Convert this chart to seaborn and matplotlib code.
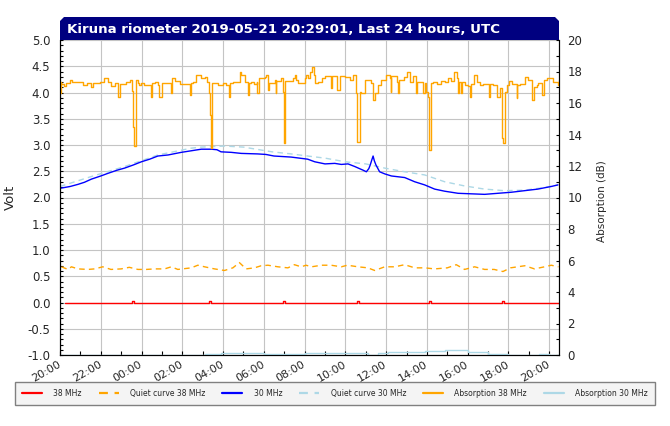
import numpy as np
import pandas as pd
import matplotlib
matplotlib.use("Agg")
import matplotlib.pyplot as plt
from matplotlib.patches import Polygon
import seaborn as sns

sns.set_theme(style="white")
plt.rcParams['font.family'] = ['DejaVu Sans']

# ---------------- data (hours after 2019-05-20 20:00 UTC) ----------------
tick_hours = [0, 2, 4, 6, 8, 10, 12, 14, 16, 18, 20, 22, 24]
tick_labels = ["20:00", "22:00", "00:00", "02:00", "04:00", "06:00", "08:00",
               "10:00", "12:00", "14:00", "16:00", "18:00", "20:00"]

# 38 MHz signal (Volt)
sig38_h = [0.25, 3.55, 3.65, 7.32, 7.42, 10.95, 11.05, 14.55, 14.65, 18.08, 18.18, 21.70, 21.80, 24.48]
sig38_v = [0.0, 0.02, 0.0, 0.02, 0.0, 0.02, 0.0, 0.02, 0.0, 0.02, 0.0, 0.02, 0.0, 0.0]

# Quiet curve 38 MHz (Volt)
q38_h = [0.07, 0.39, 0.56, 0.88, 1.37, 1.70, 2.10, 2.50, 3.00, 3.40, 3.82, 4.23, 4.64, 5.13,
         5.46, 5.78, 6.44, 6.76, 7.09, 7.58, 8.07, 8.48, 8.80, 9.13, 9.54, 9.87, 10.20, 10.69,
         11.18, 11.50, 11.83, 12.07, 12.34, 12.83, 13.30, 13.80, 14.10, 14.62, 15.10, 15.44,
         15.93, 16.42, 16.91, 17.40, 17.90, 18.38, 19.00, 19.44, 19.85, 20.34, 20.83, 21.30,
         21.73, 22.10, 22.80, 23.28, 23.77, 24.10, 24.45]
q38_v = [0.68, 0.63, 0.68, 0.64, 0.63, 0.64, 0.68, 0.63, 0.64, 0.67, 0.63, 0.63, 0.64, 0.64,
         0.68, 0.63, 0.66, 0.71, 0.68, 0.64, 0.61, 0.66, 0.76, 0.64, 0.66, 0.70, 0.71, 0.68,
         0.66, 0.72, 0.68, 0.71, 0.68, 0.71, 0.71, 0.68, 0.71, 0.68, 0.66, 0.61,
         0.68, 0.68, 0.72, 0.66, 0.66, 0.64, 0.66, 0.72, 0.63, 0.68, 0.63, 0.63,
         0.59, 0.66, 0.70, 0.64, 0.68, 0.71, 0.68]

# 30 MHz signal (Volt)
sig30_h = [0.0, 0.5, 0.88, 1.2, 1.54, 2.0, 2.35, 2.8, 3.17, 3.6, 3.99, 4.4, 4.8, 5.3, 5.95,
           6.44, 6.93, 7.42, 7.7, 7.9, 8.4, 8.89, 9.7, 10.1, 10.5, 11.34, 12.15, 12.5, 13.0,
           13.48, 13.8, 14.13, 14.46, 14.87, 15.03, 15.15, 15.22, 15.3, 15.36, 15.42, 15.5,
           15.68, 15.93, 16.26, 16.91, 17.4, 17.89, 18.38, 18.87, 19.53, 20.18, 20.83, 21.48,
           22.14, 22.79, 23.44, 24.1, 24.43]
sig30_v = [2.175, 2.21, 2.25, 2.29, 2.35, 2.41, 2.46, 2.52, 2.56, 2.62, 2.68, 2.73, 2.79, 2.81,
           2.86, 2.89, 2.92, 2.92, 2.91, 2.87, 2.86, 2.84, 2.83, 2.82, 2.79, 2.77, 2.73, 2.68,
           2.64, 2.65, 2.63, 2.64, 2.59, 2.52, 2.49, 2.55, 2.62, 2.72, 2.79, 2.70, 2.62,
           2.49, 2.45, 2.41, 2.38, 2.30, 2.24, 2.16, 2.12, 2.08, 2.07, 2.06, 2.08,
           2.10, 2.13, 2.16, 2.21, 2.24]

# Quiet curve 30 MHz (Volt)
q30_h = [0.0, 1.54, 3.17, 4.8, 6.44, 6.93, 8.07, 9.0, 10.4, 11.34, 12.15, 13.0, 14.0, 15.0,
         15.93, 16.91, 17.89, 18.87, 19.85, 20.83, 21.8, 22.8, 23.77, 24.43]
q30_v = [2.21, 2.40, 2.59, 2.81, 2.94, 2.96, 2.98, 2.96, 2.87, 2.83, 2.79, 2.75, 2.68, 2.64,
         2.56, 2.49, 2.43, 2.30, 2.22, 2.16, 2.13, 2.14, 2.19, 2.24]

# Absorption 38 MHz (dB)
abs38_h = [0.00, 0.03, 0.07, 0.20, 0.30, 0.50, 0.60, 1.13, 1.34, 1.54, 1.62, 1.94, 2.16, 2.35,
           2.52, 2.68, 2.84, 2.92, 3.25, 3.42, 3.53, 3.58, 3.63, 3.71, 3.82, 3.90, 3.99, 4.10,
           4.44, 4.49, 4.67, 4.80, 4.88, 5.00, 5.46, 5.49, 5.62, 5.87, 6.40, 6.44, 6.52, 6.68,
           6.93, 7.09, 7.22, 7.29, 7.34, 7.39, 7.46, 7.75, 7.99, 8.15, 8.28, 8.33, 8.50, 8.82,
           8.90, 9.07, 9.20, 9.23, 9.26, 9.39, 9.53, 9.64, 9.67, 9.77, 10.05, 10.13, 10.21,
           10.27, 10.54, 10.59, 10.62, 10.83, 10.95, 10.97, 11.06, 11.44, 11.52, 11.60, 11.68,
           12.01, 12.09, 12.17, 12.25, 12.37, 12.46, 12.53, 12.66, 12.83, 12.99, 13.29, 13.32,
           13.61, 13.73, 13.97, 14.21, 14.38, 14.54, 14.58, 14.71, 14.79, 14.95, 15.28, 15.36,
           15.44, 15.60, 15.77, 16.01, 16.18, 16.23, 16.26, 16.52, 16.57, 16.63, 16.90, 17.01,
           17.17, 17.34, 17.45, 17.47, 17.50, 17.83, 17.91, 17.96, 18.07, 18.10, 18.20, 18.32,
           18.48, 18.69, 18.89, 19.05, 19.18, 19.33, 19.46, 19.51, 19.55, 19.67, 19.74, 19.87,
           20.00, 20.12, 20.17, 20.33, 20.44, 20.61, 20.77, 21.06, 21.09, 21.26, 21.42, 21.58,
           21.70, 21.74, 21.83, 21.91, 22.02, 22.16, 22.40, 22.44, 22.57, 22.81, 22.97, 23.14,
           23.27, 23.38, 23.46, 23.63, 23.76, 23.87, 24.20, 24.44, 24.48]
abs38_db = [16.61, 17.31, 17.20, 17.10, 17.25, 17.46, 17.35, 17.14, 17.25, 17.04, 17.25, 17.35,
            17.57, 17.35, 17.08, 17.25, 16.36, 17.20, 17.35, 17.46, 16.76, 14.50, 13.29, 17.46,
            17.25, 17.14, 17.29, 17.14, 16.36, 17.25, 17.35, 17.14, 16.36, 17.25, 16.61, 17.57,
            17.42, 17.20, 16.51, 17.29, 17.35, 17.78, 17.57, 17.63, 17.35, 16.61, 15.23, 13.12,
            17.29, 17.14, 17.29, 17.14, 16.36, 17.25, 17.35, 17.99, 17.78, 17.35, 17.14, 16.51,
            17.25, 17.35, 17.20, 17.35, 16.61, 17.57, 17.67, 17.78, 16.83, 17.29, 17.46, 16.61,
            17.42, 17.57, 16.72, 13.44, 17.42, 17.57, 17.78, 17.46, 17.29, 17.57, 17.78, 17.57,
            17.99, 18.27, 17.78, 17.25, 17.35, 17.57, 17.71, 16.93, 17.71, 16.83, 17.71, 17.67,
            17.46, 17.78, 16.61, 13.55, 16.72, 16.61, 17.46, 17.25, 16.19, 16.61, 17.14, 17.46,
            17.78, 17.57, 16.72, 17.71, 17.35, 16.61, 17.46, 17.67, 17.99, 17.35, 17.71, 17.46,
            16.61, 17.35, 16.61, 17.25, 16.72, 16.40, 13.02, 17.25, 17.35, 17.20, 17.42, 17.35,
            17.57, 17.42, 17.99, 17.57, 16.61, 17.35, 16.61, 17.35, 17.14, 17.08, 16.40, 17.20,
            17.78, 17.35, 17.14, 17.20, 16.40, 17.20, 17.14, 16.40, 16.93, 13.76, 13.44, 16.72,
            17.14, 17.42, 17.20, 16.30, 17.14, 17.20, 17.67, 17.46, 16.19, 17.04, 17.14, 17.25,
            16.51, 17.46, 17.57, 17.35, 17.14, 17.46]

# Absorption 30 MHz (dB)
abs30_h = [0.0, 7.1, 7.9, 10.0, 12.0, 15.1, 15.6, 16.1, 17.9, 18.9, 20.0, 21.0, 22.0, 23.5, 24.0, 24.48]
abs30_db = [0.02, 0.06, 0.10, 0.05, 0.10, 0.0, 0.10, 0.19, 0.25, 0.30, 0.17, 0.06, 0.0, 0.04, 0.0, 0.0]

# ---------------- figure ----------------
W, H = 670, 426
fig = plt.figure(figsize=(W / 100, H / 100), dpi=100)
fig.patch.set_facecolor("white")
L, R, T, B = 60, 559, 40, 355
ax = fig.add_axes([L / W, 1 - B / H, (R - L) / W, (B - T) / H])
ax2 = ax.twinx()

ORANGE = "#FFA500"
BLUE = "#0000FF"
LBLUE = "#ADD8E6"
RED = "#FF0000"

def df(h, v):
    return pd.DataFrame({"h": h, "v": v})

lw = 1.0
sns.lineplot(data=df(sig38_h, sig38_v), x="h", y="v", ax=ax, color=RED, lw=lw,
             drawstyle="steps-post", estimator=None, sort=False, legend=False, label="38 MHz")
sns.lineplot(data=df(q38_h, q38_v), x="h", y="v", ax=ax, color=ORANGE, lw=lw,
             linestyle=(0, (4, 3)), estimator=None, sort=False, legend=False,
             label="Quiet curve 38 MHz")
sns.lineplot(data=df(q30_h, q30_v), x="h", y="v", ax=ax, color=LBLUE, lw=lw,
             linestyle=(0, (4, 3)), estimator=None, sort=False, legend=False,
             label="Quiet curve 30 MHz")
sns.lineplot(data=df(sig30_h, sig30_v), x="h", y="v", ax=ax, color=BLUE, lw=lw,
             estimator=None, sort=False, legend=False, label="30 MHz")
sns.lineplot(data=df(abs38_h, abs38_db), x="h", y="v", ax=ax2, color=ORANGE, lw=lw,
             drawstyle="steps-post", estimator=None, sort=False, legend=False,
             label="Absorption 38 MHz")
sns.lineplot(data=df(abs30_h, abs30_db), x="h", y="v", ax=ax2, color=LBLUE, lw=lw,
             drawstyle="steps-post", estimator=None, sort=False, legend=False,
             label="Absorption 30 MHz")

# axes limits & ticks
ax.set_xlim(0, 24.48)
ax.set_ylim(-1.0, 5.0)
ax2.set_ylim(0, 20)
ax.set_yticks(np.arange(-1.0, 5.01, 0.5))
ax.set_yticklabels([f"{v:.1f}" for v in np.arange(-1.0, 5.01, 0.5)])
ax.set_yticks(np.arange(-1.0, 5.01, 0.1), minor=True)
ax.set_xticks(tick_hours)
ax.set_xticklabels(tick_labels, rotation=30, ha="right", va="center", rotation_mode="anchor")
ax.set_xticks(np.arange(0, 24.5, 1), minor=True)
ax2.set_yticks(np.arange(0, 21, 2))
ax2.set_yticks(np.arange(0, 21, 1), minor=True)

ax.grid(True, which="major", color="#c4c4c4", lw=0.8)
ax2.grid(False)
ax.set_axisbelow(True)

ax.tick_params(axis="y", which="both", direction="in", length=2.2, width=0.8, color="black",
               labelsize=8.5, pad=7, left=True, right=False)
ax.tick_params(axis="x", which="both", direction="in", length=3, width=0.8, color="black",
               labelsize=8, pad=6, bottom=True)
ax2.tick_params(axis="y", which="both", direction="in", length=2.5, width=0.8, color="black",
                labelsize=8.5, pad=6, right=True)
for a in (ax, ax2):
    for s in ("left", "right", "bottom"):
        a.spines[s].set_color("black")
        a.spines[s].set_linewidth(0.8)
    a.spines["top"].set_visible(False)

ax.set_xlabel("")
ax.set_ylabel("Volt", fontsize=9.5)
ax.yaxis.set_label_coords(-0.086, 0.5)
ax2.set_ylabel("Absorption (dB)", fontsize=7.5)
ax2.yaxis.set_label_coords(1.076, 0.49)

# title banner
pts = [(60, 40), (60, 21), (64, 17), (555, 17), (559, 21), (559, 40)]
banner = Polygon([(x / W, 1 - y / H) for x, y in pts], closed=True,
                 transform=fig.transFigure, facecolor="#000080", edgecolor="none")
fig.patches.append(banner)
fig.text(67 / W, 1 - 29.5 / H, "Kiruna riometer 2019-05-21 20:29:01, Last 24 hours, UTC",
         color="white", fontsize=9.6, fontweight="bold", va="center", ha="left")

# legend
h1, l1 = ax.get_legend_handles_labels()
h2, l2 = ax2.get_legend_handles_labels()
order = ["38 MHz", "Quiet curve 38 MHz", "30 MHz", "Quiet curve 30 MHz",
         "Absorption 38 MHz", "Absorption 30 MHz"]
lookup = dict(zip(l1 + l2, h1 + h2))
leg = fig.legend([lookup[k] for k in order], order, loc="center",
                 bbox_to_anchor=(15 / W, 1 - 405 / H, 640 / W, 23 / H), mode="expand",
                 ncol=6, fontsize=5.5, frameon=True, fancybox=False, framealpha=1,
                 facecolor="#f4f4f4", edgecolor="#808080", borderaxespad=0,
                 handlelength=2.6, handletextpad=1.5, borderpad=0.9)
leg.get_frame().set_linewidth(1.0)
for line in leg.get_lines():
    line.set_linewidth(1.6)

fig.savefig("out.png", dpi=100)
